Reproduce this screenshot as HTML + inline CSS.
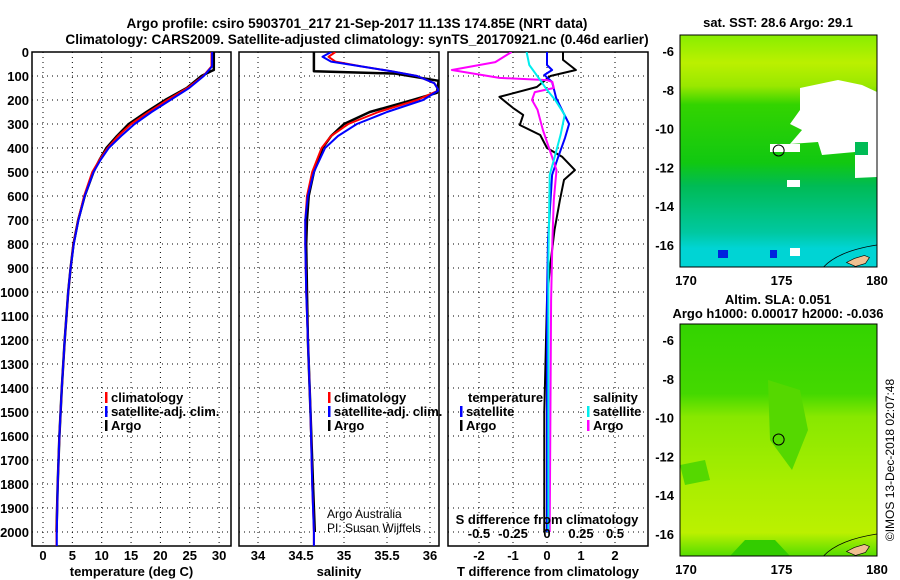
<!DOCTYPE html>
<html><head><meta charset="utf-8"><style>
body{margin:0;background:#fff;}
svg{display:block;font-family:"Liberation Sans",sans-serif;}
.t{font-weight:bold;font-size:13px;fill:#000;}
.grid{stroke:#000;stroke-width:1;stroke-dasharray:1,4;}
</style></head><body>
<svg id="chart" width="900" height="580" viewBox="0 0 900 580">
<defs>
<linearGradient id="sstg" x1="0" y1="0" x2="0" y2="1">
<stop offset="0" stop-color="#88ee00"/><stop offset="0.12" stop-color="#bbf000"/><stop offset="0.22" stop-color="#99e800"/><stop offset="0.3" stop-color="#33d400"/>
<stop offset="0.55" stop-color="#11c811"/><stop offset="0.65" stop-color="#00bb55"/><stop offset="0.85" stop-color="#00c8a0"/><stop offset="0.92" stop-color="#00d4d4"/><stop offset="1" stop-color="#00d4d4"/>
</linearGradient>
<linearGradient id="slag" x1="0" y1="0" x2="0" y2="1">
<stop offset="0" stop-color="#33d400"/><stop offset="0.3" stop-color="#44d800"/><stop offset="0.4" stop-color="#88e800"/><stop offset="0.7" stop-color="#aaee00"/><stop offset="0.9" stop-color="#bbf000"/><stop offset="1" stop-color="#55dd00"/>
</linearGradient>
</defs>
<text class="t" x="357" y="28" text-anchor="middle" style="font-size:13.6px">Argo profile: csiro 5903701_217 21-Sep-2017 11.13S 174.85E (NRT data)</text>
<text class="t" x="357" y="44" text-anchor="middle" style="font-size:13.6px">Climatology: CARS2009. Satellite-adjusted climatology: synTS_20170921.nc (0.46d earlier)</text>
<g id="p1"></g>
<g id="p2"></g>
<g id="p3"></g>
<g id="maps"></g>
<text class="t" x="0" y="0" transform="translate(894,460) rotate(-90)" text-anchor="middle" style="font-weight:normal;font-size:12px">©IMOS 13-Dec-2018 02:07:48</text>
</svg>
<script>
// ---- data ----
const depthTicks=[0,100,200,300,400,500,600,700,800,900,1000,1100,1200,1300,1400,1500,1600,1700,1800,1900,2000];
const tempTicks=[0,5,10,15,20,25,30];
const salTicks=[34,34.5,35,35.5,36];
const tdiffTicks=[-2,-1,0,1,2];
const sdiffTicks=[-0.5,-0.25,0,0.25,0.5];
const sdiffLabels=["-0.5","-0.25","0","0.25","0.5"];
const argoTD=[0,75,80,100,150,200,250,300,350,400,450,500,600,700,800,900,1000,1200,1400,1600,1800,2000];
const argoT=[29.1,29.1,28.6,27,24.5,20.8,17.6,14.6,12.6,10.8,9.6,8.6,7.1,6,5.2,4.7,4.3,3.7,3.2,2.8,2.5,2.3];
const climTD=[0,60,100,150,200,250,300,350,400,450,500,600,700,800,900,1000,1200,1400,1600,1800,2000,2060];
const climT=[28.7,28.7,27.3,24.6,21.2,18,15,12.8,11,9.6,8.4,7,6,5.2,4.7,4.3,3.7,3.2,2.8,2.5,2.3,2.3];
const satT=[28.8,28.8,27.4,24.9,21.7,18.5,15.6,13.3,11.2,9.8,8.6,7.1,6.05,5.25,4.7,4.3,3.7,3.2,2.8,2.5,2.35,2.35];
const argoSD=[0,80,90,120,170,200,250,300,350,400,500,600,700,800,1000,1200,1500,1800,2000];
const argoS=[34.65,34.65,35.6,36.1,36.08,35.8,35.3,35.0,34.85,34.75,34.65,34.59,34.57,34.56,34.57,34.58,34.61,34.64,34.66];
const climSD=[0,20,40,60,80,100,130,160,200,250,300,350,400,500,600,700,800,1000,1200,1500,1800,2000,2060];
const climS=[34.9,34.82,34.9,35.2,35.55,35.85,36.05,36.1,35.85,35.4,35.05,34.85,34.74,34.63,34.57,34.55,34.55,34.56,34.58,34.61,34.63,34.65,34.65];
const satS=[34.85,34.75,34.85,35.2,35.55,35.85,36.05,36.1,35.92,35.5,35.15,34.93,34.78,34.65,34.58,34.55,34.55,34.56,34.58,34.61,34.63,34.65,34.65];
const dArgoTD=[0,33,75,100,146,187,233,262,304,346,400,437,492,533,617,742,908,1033,1500,2000];
const dArgoT=[0.47,0.47,0.85,0.1,-0.3,-1.4,-1.0,-0.7,-0.8,-0.2,0,0.45,0.82,0.5,0.38,0.22,0.08,0,-0.08,-0.08];
const dSatTD=[0,54,75,96,125,192,250,300,358,441,512,783,1033,1500,2000];
const dSatT=[0,0,0.15,-0.08,0.15,0.27,0.47,0.65,0.53,0.32,0.15,0.03,0,0,0];
const dSatSD=[0,54,117,158,200,262,345,429,512,867,2000];
const dSatS=[-0.15,-0.13,-0.05,0,0.06,0.13,0.1,0.06,0.02,0.01,0.01];
const dArgoSD=[0,42,75,108,117,125,150,167,200,241,325,408,492,617,783,1033,2000];
const dArgoS=[-0.26,-0.38,-0.7,-0.35,0,0.04,0.05,-0.09,-0.11,-0.07,-0.03,0.02,0.07,0.05,0.04,0.03,0.02];
// ---- scales ----
const TOP=52,BOT=546;
const yD=d=>TOP+d*0.24;
const xT=t=>43+t*5.87;
const xS=s=>258+(s-34)*86;
const xTD=v=>547+v*34;
const xSD=v=>547+v*136;
const NS='http://www.w3.org/2000/svg';
function mk(tag,attrs,parent){const e=document.createElementNS(NS,tag);for(const k in attrs)e.setAttribute(k,attrs[k]);parent.appendChild(e);return e;}
function txt(parent,x,y,s,anchor,cls){const e=mk('text',{x:x,y:y,'text-anchor':anchor||'middle',class:cls||'t'},parent);e.textContent=s;return e;}
function panel(g,x0,x1,xt,xfn,labels,xtitle,showDepth){
  depthTicks.forEach(d=>{const l=mk('line',{x1:x0,x2:x1,y1:yD(d),y2:yD(d),class:'grid'},g);
    
    
    if(showDepth){const t=txt(g,x0-3,yD(d)+5,String(d),'end');
    
    }});
  xt.forEach((v,i)=>{const l=mk('line',{x1:xfn(v),x2:xfn(v),y1:TOP,y2:BOT,class:'grid'},g);
    
    
    if(labels){const t=txt(g,xfn(v),560,labels[i]);
    
    }});
  const r=mk('rect',{x:x0,y:TOP,width:x1-x0,height:BOT-TOP,fill:'none',stroke:'#000','stroke-width':1.5},g);
  
  
  if(xtitle){const t=txt(g,(x0+x1)/2,576,xtitle);
  
  }
}
function line(g,ds,vs,xfn,col,w,name){
  const pts=ds.map((d,i)=>xfn(vs[i]).toFixed(1)+','+yD(d).toFixed(1)).join(' ');
  const p=mk('polyline',{points:pts,fill:'none',stroke:col,'stroke-width':w,'stroke-linejoin':'round'},g);
  
  
}
function clip(g,id,x0,x1){const c=mk('clipPath',{id:id},g);mk('rect',{x:x0,y:TOP,width:x1-x0,height:BOT-TOP},c);}
function legend(g,x,y,items){items.forEach((it,i)=>{const r=mk('rect',{x:x,y:y+i*14-10,width:2.5,height:11,fill:it[1]},g);
  
  
  const t=txt(g,x+6,y+i*14,it[0],'start');
  
  });}
const p1=document.getElementById('p1'),p2=document.getElementById('p2'),p3=document.getElementById('p3');
panel(p1,32,231,tempTicks,xT,tempTicks.map(String),'temperature (deg C)',true);
clip(p1,'c1',32,231);
const g1=mk('g',{'clip-path':'url(#c1)'},p1);
line(g1,argoTD,argoT,xT,'#000',2.5,'argo-temperature-line');
line(g1,climTD,climT,xT,'#f00',2,'clim-temperature-line');
line(g1,climTD,satT,xT,'#00f',2,'sat-temperature-line');
legend(p1,105,402,[['climatology','#f00'],['satellite-adj. clim.','#00f'],['Argo','#000']]);
panel(p2,239,439,salTicks,xS,['34','34.5','35','35.5','36'],'salinity',false);
clip(p2,'c2',239,439);
const g2=mk('g',{'clip-path':'url(#c2)'},p2);
line(g2,argoSD,argoS,xS,'#000',2.5,'argo-salinity-line');
line(g2,climSD,climS,xS,'#f00',2,'clim-salinity-line');
line(g2,climSD,satS,xS,'#00f',2,'sat-salinity-line');
legend(p2,328,402,[['climatology','#f00'],['satellite-adj. clim.','#00f'],['Argo','#000']]);
let a=txt(p2,327,518,'Argo Australia','start');a.setAttribute('style','font-weight:normal;font-size:12px');


a=txt(p2,327,532,'PI: Susan Wijffels','start');a.setAttribute('style','font-weight:normal;font-size:12px');


panel(p3,448,648,tdiffTicks,xTD,tdiffTicks.map(String),'T difference from climatology',false);
clip(p3,'c3',448,648);
const g3=mk('g',{'clip-path':'url(#c3)'},p3);
line(g3,dArgoTD,dArgoT,xTD,'#000',2,'argo-t-diff-line');
line(g3,dSatTD,dSatT,xTD,'#00f',2,'sat-t-diff-line');
line(g3,dArgoSD,dArgoS,xSD,'#f0f',2,'argo-s-diff-line');
line(g3,dSatSD,dSatS,xSD,'#0ee',2,'sat-s-diff-line');
sdiffTicks.forEach((v,i)=>{const t=txt(p3,xSD(v),538,sdiffLabels[i]);
  
  });
a=txt(p3,547,524,'S difference from climatology');


a=txt(p3,468,402,'temperature','start');


legend(p3,460,416,[['satellite','#00f'],['Argo','#000']]);
a=txt(p3,593,402,'salinity','start');


legend(p3,587,416,[['satellite','#0ee'],['Argo','#f0f']]);
// ---- maps ----
const maps=document.getElementById('maps');
const lonTicks=[170,175,180];
const latTicks=[-6,-8,-10,-12,-14,-16];
function map(y0,y1,fill,title1,title2,name,clouds){
  const X0=680,X1=877;const lx=lon=>686+(lon-170)*19.1;const ly=lat=>y0+16+(-6-lat)*19.4;
  const g=mk('g',{},maps);
  const r=mk('rect',{x:X0,y:y0,width:X1-X0,height:y1-y0,fill:fill},g);
  
  
  clouds.forEach(c=>{const e=mk('polygon',{points:c.pts,fill:c.f},g);
    
    });
  const land=mk('path',{d:`M${lx(178.4)},${ly(-16.9)} l8,-4 l10,-3 l5,2 l-4,6 l-10,3 z`,fill:'#f0c090',stroke:'#000','stroke-width':0.6},g);
  
  
  const arc=mk('path',{d:`M${lx(177.2)},${y1} Q${lx(178)},${ly(-16.3)} ${X1},${ly(-16)}`,fill:'none',stroke:'#000','stroke-width':0.8},g);
  
  
  const c=mk('circle',{cx:lx(174.85),cy:ly(-11.13),r:5.5,fill:'none',stroke:'#000','stroke-width':1},g);
  
  
  const fr=mk('rect',{x:X0,y:y0,width:X1-X0,height:y1-y0,fill:'none',stroke:'#000','stroke-width':1},g);
  
  
  latTicks.forEach(l=>{const t=txt(g,X0-6,ly(l)+5,String(l),'end');
    
    });
  lonTicks.forEach(l=>{const t=txt(g,lx(l),y1+18,String(l));
    
    });
  let t=txt(g,778,y0-(title2?20:8),title1);
  
  
  if(title2){t=txt(g,778,y0-6,title2);
  
  }
}
map(35,267,'url(#sstg)','sat. SST: 28.6 Argo: 29.1',null,'sst-map',[
 {pts:'800,88 838,80 862,85 877,92 877,177 855,178 855,152 822,155 818,142 790,144 802,130 790,124 800,110',f:'#fff'},
 {pts:'770,144 800,144 800,152 770,152',f:'#fff'},
 {pts:'855,142 868,142 868,155 855,155',f:'#00bb55'},
 {pts:'787,180 800,180 800,187 787,187',f:'#fff'},
 {pts:'718,250 728,250 728,258 718,258',f:'#0022dd'},
 {pts:'770,250 777,250 777,258 770,258',f:'#0022dd'},
 {pts:'790,248 800,248 800,256 790,256',f:'#fff'}]);
map(324,556,'url(#slag)','Altim. SLA: 0.051','Argo h1000: 0.00017 h2000: -0.036','sla-map',[
 {pts:'680,465 705,460 710,480 685,485',f:'#55d800'},
 {pts:'730,556 745,540 775,540 790,556',f:'#33cc00'},
 {pts:'768,380 800,390 808,430 792,470 770,440',f:'#55d800'}]);
</script>
</body></html>
